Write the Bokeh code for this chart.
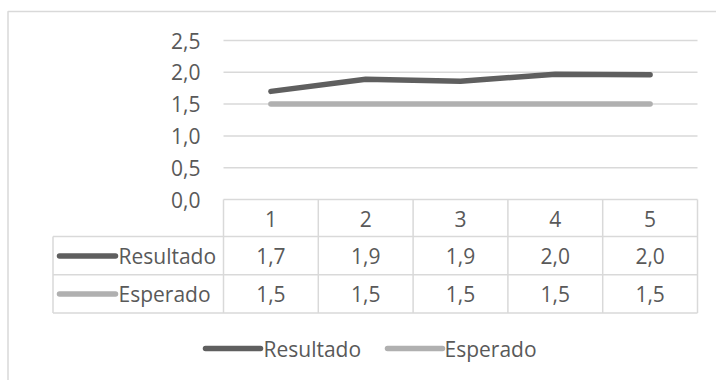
from bokeh.plotting import figure
from bokeh.embed import file_html
from bokeh.resources import INLINE
from bokeh.core.properties import value
from bokeh.models import ColumnDataSource, Range1d

# ---- data ----
categories = ["1", "2", "3", "4", "5"]
resultado = [1.70, 1.89, 1.86, 1.97, 1.96]
esperado = [1.5, 1.5, 1.5, 1.5, 1.5]
series_names = ["Resultado", "Esperado"]
y_ticks = [0.0, 0.5, 1.0, 1.5, 2.0, 2.5]

# ---- style ----
DARK = "#5f5f5f"
LIGHT = "#b0b0b0"
GRID = "#d9d9d9"
TEXT = "#595959"
FONT = value("Open Sans")
FSIZE = value("21px")

W, H = 716, 380
# pixel geometry of the plot area (category units on x, value units on y)
px_left, px_right = 223.0, 697.0      # x = 0.5 .. 5.5
py_zero, py_top = 199.0, 40.0         # y = 0 .. 2.5
n = len(categories)
ux = (px_right - px_left) / n
uy = (py_zero - py_top) / y_ticks[-1]
x_start = 0.5 - px_left / ux
x_end = n + 0.5 + (W - px_right) / ux
y_end = py_zero / uy
y_start = -(H - py_zero) / uy


def X(px):
    return x_start + px / ux


def Y(py):
    return y_end - py / uy


def fmt(v):
    return f"{v:.1f}".replace(".", ",")


p = figure(width=W, height=H, output_backend="svg", toolbar_location=None,
           x_range=Range1d(x_start, x_end), y_range=Range1d(y_start, y_end),
           min_border=0, min_border_left=0, min_border_right=0,
           min_border_top=0, min_border_bottom=0)
p.axis.visible = False
p.grid.visible = False
p.outline_line_color = None
p.background_fill_color = "white"
p.border_fill_color = "white"

xs = list(range(1, n + 1))

# outer chart border (clipped at right and bottom)
p.line([X(7.5), X(7.5), X(730)], [Y(400), Y(11), Y(11)], line_color=GRID, line_width=1.5)

# gridlines
p.segment(x0=[0.5] * len(y_ticks), x1=[n + 0.5] * len(y_ticks), y0=y_ticks, y1=y_ticks,
          line_color=GRID, line_width=1.5)

# y tick labels
p.text(x=[X(200)] * len(y_ticks), y=y_ticks, text=[fmt(t) for t in y_ticks],
       text_align="right", text_baseline="middle", text_color=TEXT,
       text_font=FONT, text_font_size=FSIZE)

# series lines
p.line(xs, resultado, line_color=DARK, line_width=5.5, line_cap="round", line_join="round")
p.line(xs, esperado, line_color=LIGHT, line_width=5.5, line_cap="round", line_join="round")

# ---- data table ----
row_bounds = [Y(236), Y(274.3), Y(312.5)]
tx0 = X(52.5)
p.segment(x0=[tx0] * 3, x1=[n + 0.5] * 3, y0=row_bounds, y1=row_bounds,
          line_color=GRID, line_width=1.5)
col_bounds = [i + 0.5 for i in range(n + 1)]
p.segment(x0=col_bounds, x1=col_bounds, y0=[0] * len(col_bounds), y1=[row_bounds[-1]] * len(col_bounds),
          line_color=GRID, line_width=1.5)
p.segment(x0=[tx0], x1=[tx0], y0=[row_bounds[0]], y1=[row_bounds[-1]],
          line_color=GRID, line_width=1.5)

# header row
p.text(x=xs, y=[Y(218)] * n, text=categories, text_align="center", text_baseline="middle",
       text_color=TEXT, text_font=FONT, text_font_size=FSIZE)

row_y = [Y(255.5), Y(293.5)]
for vals, ry, col, name in zip([resultado, esperado], row_y, [DARK, LIGHT], series_names):
    p.text(x=xs, y=[ry] * n, text=[fmt(v) for v in vals], text_align="center",
           text_baseline="middle", text_color=TEXT, text_font=FONT, text_font_size=FSIZE)
    p.line([X(59), X(115)], [ry, ry], line_color=col, line_width=5.5, line_cap="round")
    p.text(x=[X(118)], y=[ry], text=[name], text_align="left", text_baseline="middle",
           text_color=TEXT, text_font=FONT, text_font_size=FSIZE)

# ---- legend ----
ly = Y(348)
for (sx0, sx1, tx), col, name in zip([(205, 260, 263), (387, 442, 444)], [DARK, LIGHT], series_names):
    p.line([X(sx0), X(sx1)], [ly, ly], line_color=col, line_width=5.5, line_cap="round")
    p.text(x=[X(tx)], y=[ly], text=[name], text_align="left", text_baseline="middle",
           text_color=TEXT, text_font=FONT, text_font_size=FSIZE)

open("out.html", "w").write(file_html(p, INLINE))
